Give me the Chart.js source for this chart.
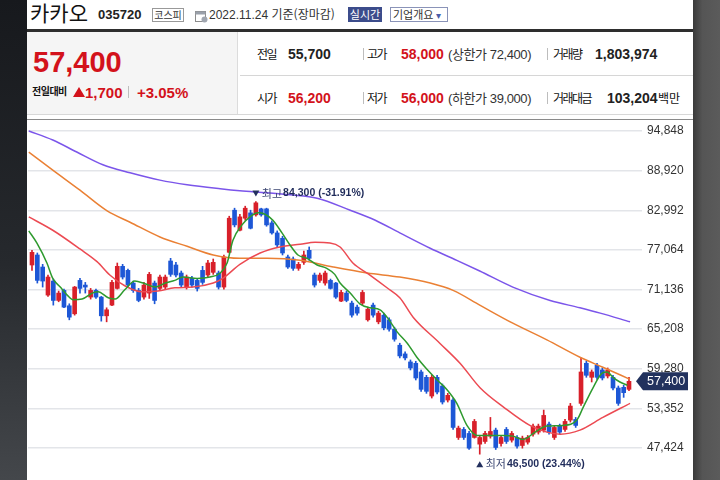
<!DOCTYPE html>
<html lang="ko">
<head>
<meta charset="utf-8">
<title>카카오 035720 일봉</title>
<script src="https://cdn.jsdelivr.net/npm/chart.js@4.4.1/dist/chart.umd.min.js"></script>
<style>
  html, body { margin: 0; padding: 0; }
  body {
    width: 720px; height: 480px; overflow: hidden; position: relative;
    background: linear-gradient(#17191d, #26292d 55%, #44474b);
    font-family: "Liberation Sans", "Noto Sans CJK KR", sans-serif;
    color: #222;
  }
  #side { position: absolute; left: 693px; top: 0; width: 27px; height: 480px;
          background: linear-gradient(to right, #3a3a3a, #555 35%, #5b5b5b); }
  #page { position: absolute; left: 27px; top: 0; width: 666px; height: 480px; background: #fff; }
  .t { position: absolute; white-space: nowrap; }
  .kr { font-family: "Noto Sans CJK KR", sans-serif; }
  .red { color: #d3121b; }
  .b { font-weight: bold; }
  .lbl { font-family: "Noto Sans CJK KR", sans-serif; font-size: 12px; letter-spacing: -1.5px; line-height: 16px; color: #111; }
  .num { font-size: 14px; font-weight: bold; line-height: 16px; }
  .sub { font-size: 13px; line-height: 16px; color: #333; letter-spacing: -0.4px; }
  .sep { position: absolute; width: 1px; height: 12px; background: #bdbdbd; }
  #chartBox { position: absolute; left: 0; top: 120px; width: 666px; height: 360px; }
</style>
</head>
<body>
<div id="side"></div>
<div id="page">
  <!-- 종목 헤더 -->
  <div class="t kr" style="left:3px;top:-2px;font-size:21px;line-height:28px;color:#111">카카오</div>
  <div class="t b" style="left:71px;top:8px;font-size:13px;line-height:14px;color:#222">035720</div>
  <div class="t kr" style="left:125px;top:8px;width:30px;height:12px;border:1px solid #999;font-size:10px;line-height:12px;text-align:center;color:#333">코스피</div>
  <svg class="t" style="left:167px;top:9px" width="14" height="14" viewBox="0 0 14 14">
    <rect x="1.5" y="2.5" width="10" height="10" fill="#fff" stroke="#8c8c8c"/>
    <rect x="1.5" y="2.5" width="10" height="3" fill="#9aa0aa"/>
    <circle cx="10.5" cy="10.5" r="3" fill="#a0a6b0"/>
  </svg>
  <div class="t" style="left:182px;top:6px;font-size:12px;line-height:16px;color:#333">2022.11.24 <span class="kr">기준(장마감)</span></div>
  <div class="t kr" style="left:321px;top:7px;width:34px;height:15px;background:#3c4c8b;color:#fff;font-size:11px;line-height:15px;text-align:center">실시간</div>
  <div class="t kr" style="left:363px;top:7px;width:54px;height:13px;border:1px solid #8a93b8;font-size:11px;line-height:13px;color:#333;padding-left:2px;box-sizing:content-box">기업개요<span style="color:#4b5ea8;font-size:10px"> ▾</span></div>
  <div class="t" style="left:0;top:29px;width:666px;height:3px;background:#2e2e2e"></div>

  <!-- 현재가 -->
  <div class="t" style="left:0;top:32px;width:210px;height:82px;background:#f5f5f5;border-right:1px solid #dcdcdc"></div>
  <div class="t b red" style="left:6px;top:48px;font-size:29px;line-height:29px">57,400</div>
  <div class="t kr b" style="left:5px;top:84px;font-size:10px;line-height:14px;color:#111;letter-spacing:-0.5px">전일대비</div>
  <div class="t" style="left:46px;top:87px;width:0;height:0;border-left:6px solid transparent;border-right:6px solid transparent;border-bottom:10px solid #d3121b"></div>
  <div class="t b red" style="left:58px;top:85px;font-size:15px;line-height:15px">1,700</div>
  <div class="sep" style="left:101px;top:86px;height:12px"></div>
  <div class="t b red" style="left:110px;top:85px;font-size:15px;line-height:15px">+3.05%</div>

  <!-- 시세 표 -->
  <div class="t lbl" style="left:230px;top:46px">전일</div>
  <div class="t num" style="left:261px;top:46px">55,700</div>
  <div class="sep" style="left:336px;top:48px"></div>
  <div class="t lbl" style="left:340px;top:46px">고가</div>
  <div class="t num red" style="left:374px;top:46px">58,000</div>
  <div class="t sub" style="left:421px;top:46px">(<span class="kr">상한가</span> 72,400)</div>
  <div class="sep" style="left:520px;top:48px"></div>
  <div class="t lbl" style="left:526px;top:46px">거래량</div>
  <div class="t num" style="left:568px;top:46px">1,803,974</div>

  <div class="t" style="left:213px;top:75px;width:453px;height:1px;background:#d6d6d6"></div>

  <div class="t lbl" style="left:230px;top:90px">시가</div>
  <div class="t num red" style="left:261px;top:90px">56,200</div>
  <div class="sep" style="left:336px;top:92px"></div>
  <div class="t lbl" style="left:340px;top:90px">저가</div>
  <div class="t num red" style="left:374px;top:90px">56,000</div>
  <div class="t sub" style="left:421px;top:90px">(<span class="kr">하한가</span> 39,000)</div>
  <div class="sep" style="left:520px;top:92px"></div>
  <div class="t lbl" style="left:526px;top:90px">거래대금</div>
  <div class="t num" style="left:580px;top:90px">103,204</div>
  <div class="t kr" style="left:631px;top:90px;font-size:12px;line-height:16px;color:#111">백만</div>

  <div class="t" style="left:0;top:114px;width:666px;height:1px;background:#d8d8d8"></div>
  <div class="t" style="left:0;top:119px;width:666px;height:1px;background:#8a8a8a"></div>

  <div id="chartBox"><canvas id="candleChart"></canvas></div>
</div>

<script>
// 일봉 시가/고가/저가/종가 (그림에서 읽은 값, 마지막 봉 = 2022.11.24)
const opens = [
  74800, 76300, 74500, 70300, 72400, 69500, 71000, 68700, 67500, 72500,
  71800, 70000, 71000, 70000, 67200, 68800, 71300, 74600, 74000, 72100,
  71000, 70000, 70600, 72100, 71300, 71500, 75400, 74800, 73600, 71500,
  72800, 72500, 74000, 73300, 73700, 73600, 71500, 76700, 83000, 80000,
  81800, 82600, 82300, 83200, 83200, 81100, 79600, 78800, 76000, 75700,
  74300, 75200, 77000, 73300, 72500, 72100, 72500, 72100, 69400, 70600,
  69100, 68500, 69100, 66600, 68800, 66300, 67300, 66600, 65200, 62800,
  61500, 60300, 60100, 58800, 58000, 55200, 58000, 56700, 54600, 54600,
  49000, 50200, 49600, 49000, 48000, 48400, 49200, 50100, 48100, 50200,
  48600, 49000, 47800, 48300, 49500, 49800, 50100, 51000, 49000, 50700,
  50200, 51600, 51700, 54100, 60100, 58000, 59800, 59100, 58200, 58000,
  56400, 56500, 56200
];
const highs = [
  77000, 76600, 74900, 73300, 72700, 70900, 71200, 69000, 71600, 72800,
  72200, 71300, 71200, 70100, 68400, 72500, 75100, 74900, 74200, 72400,
  71300, 72200, 73700, 72400, 73300, 73300, 75800, 75200, 73900, 73300,
  73100, 72800, 74600, 75500, 75700, 73900, 76300, 82100, 83300, 82400,
  83600, 83000, 84300, 83300, 83300, 81400, 79900, 79100, 76300, 76000,
  75200, 76900, 77500, 73600, 73600, 73900, 72700, 72200, 71000, 70900,
  69400, 68800, 71000, 68500, 69100, 67900, 67600, 66900, 65500, 63100,
  61800, 60600, 60400, 59100, 58300, 58300, 58300, 57000, 55600, 54900,
  50700, 50500, 49900, 51700, 49300, 49900, 52000, 50400, 49300, 50500,
  49900, 49300, 49200, 49300, 51000, 51000, 53100, 51300, 50800, 51000,
  51700, 54100, 52000, 60900, 60400, 59100, 60100, 59400, 59400, 58300,
  56700, 56800, 58000
];
const lows = [
  74000, 72100, 71500, 70100, 68800, 69300, 68400, 66600, 67300, 70600,
  70600, 69700, 69800, 66400, 66300, 68700, 71200, 72700, 71500, 70700,
  69300, 69700, 69800, 69000, 71000, 71200, 73100, 73000, 71500, 71200,
  71500, 70900, 71900, 73000, 73400, 71200, 71200, 76600, 80500, 79900,
  81500, 80200, 82100, 82100, 80600, 79400, 77500, 76300, 74300, 74000,
  74000, 74900, 75500, 71500, 72200, 71800, 71200, 69800, 69300, 69300,
  67000, 67300, 68800, 66400, 67000, 66000, 65100, 64900, 63400, 60900,
  60600, 59100, 57600, 55900, 55600, 54900, 55500, 54000, 54300, 50200,
  48700, 48700, 47200, 48900, 46500, 48100, 48900, 47200, 47700, 48100,
  48300, 47400, 47400, 48000, 49200, 49500, 49800, 49500, 48700, 49500,
  49900, 51300, 50500, 53800, 58000, 57300, 57700, 57600, 57900, 56100,
  53800, 55000, 56000
];
const closes = [
  76700, 72500, 72400, 73000, 69500, 70600, 68500, 67000, 71500, 71300,
  71500, 71000, 70000, 67200, 68100, 72200, 74600, 73000, 71800, 71000,
  69500, 71800, 73400, 69500, 73000, 73000, 73400, 73300, 71800, 73000,
  71800, 71300, 72200, 75100, 75200, 71500, 76000, 81800, 80800, 82000,
  83300, 80300, 84100, 82300, 80800, 79600, 77800, 76600, 74500, 74300,
  74900, 76300, 75800, 71800, 73300, 73600, 71300, 70000, 70700, 69500,
  67300, 67600, 70700, 68200, 67300, 67600, 65400, 65200, 63700, 61200,
  60900, 59400, 57900, 56200, 55900, 58000, 55800, 54300, 55300, 50500,
  50400, 49000, 47400, 51400, 49000, 49600, 49900, 47500, 49000, 48400,
  49600, 47700, 48900, 49000, 50700, 50700, 52300, 49800, 50500, 49800,
  51400, 53700, 50800, 58800, 58300, 58800, 58000, 57900, 59100, 56400,
  54100, 55700, 57400
];

// 이동평균선 [봉 위치, 값] — 5일(녹), 20일(적), 60일(주황), 120일(보라)
const ma5 = [
  [-0.6, 79900], [0.9, 78100], [2.8, 75100], [3.9, 72800], [5.3, 71500], [6.6, 70300],
  [7.7, 69600], [9.4, 69700], [11.3, 70600], [12.4, 70800], [14.3, 69900], [15.6, 69700],
  [17.4, 71100], [19.3, 72400], [21.2, 72000], [23.1, 71500], [25, 72100], [26.8, 72500],
  [28.3, 73000], [31, 72800], [33.4, 73000], [35.3, 73600], [36.6, 75100], [37.7, 78500],
  [39.4, 80800], [40.9, 82000], [42.4, 82600], [43.7, 82400], [45.2, 81500], [46.9, 79600],
  [48.4, 77800], [49.9, 76300], [51.6, 75800], [53.5, 74800], [55.3, 74300], [56.8, 73400],
  [57.8, 72100], [59.7, 70600], [61.5, 69000], [63.4, 68400], [65.3, 68100], [66.6, 67000],
  [68.5, 64800], [70.4, 63100], [72.2, 61000], [74.1, 59200], [76, 57600], [77.9, 56100],
  [79.7, 54100], [81.6, 50800], [83.5, 49300], [85.9, 49300], [88.4, 49300], [90.2, 49200],
  [92.1, 48700], [94.4, 49800], [96.6, 50700], [99.6, 50800], [102.3, 51700], [103.4, 53500],
  [105.3, 56500], [106.9, 58600], [107.9, 58800], [109, 58000], [110.3, 57300], [111.7, 56800]
];
const ma20 = [
  [-0.6, 82000], [3.9, 80000], [9, 77200], [12.2, 75300], [14.6, 73300], [17.4, 71700],
  [20.6, 70800], [23.6, 70900], [26.8, 71400], [30.2, 71500], [34, 72100], [35.8, 72800],
  [39, 74900], [42.8, 76600], [46.5, 77500], [50.3, 77900], [53.1, 78200], [55.9, 78100],
  [57.8, 77500], [60.2, 75100], [63.4, 73300], [66.6, 71400], [69, 69900], [71.5, 67000],
  [76.5, 63100], [80.3, 60100], [84.1, 56400], [88.7, 53400], [93.4, 50800], [96.6, 49800],
  [99.1, 49500], [102.8, 50100], [107.1, 52000], [112.2, 54100]
];
const ma60 = [
  [-0.6, 91700], [3.9, 89000], [9, 86000], [14.1, 82900], [18.4, 81200], [24, 79000],
  [29.1, 77600], [34, 76300], [39, 75800], [44.1, 75800], [50.3, 75500], [56.5, 74500],
  [62.9, 73600], [69, 73000], [74.7, 72100], [79, 71000], [84, 68800], [90.2, 66100],
  [96.6, 63600], [102.8, 61000], [107.1, 59500], [112.2, 57700]
];
const ma120 = [
  [-0.6, 94850], [3.9, 93500], [8.4, 91700], [13.3, 89800], [18.4, 88600], [24, 87500],
  [29.1, 86800], [35.3, 86200], [39, 85900], [44.1, 85600], [48.4, 85300], [53.5, 84800],
  [59.7, 83000], [64.4, 81500], [69, 79600], [74.7, 77300], [79.7, 75500], [84, 73900],
  [90.2, 71500], [97.2, 69500], [102.8, 68400], [106.6, 67600], [112.2, 66300]
];

const yTicks = [47424, 53352, 59280, 65208, 71136, 77064, 82992, 88920, 94848];

const UP = '#d8202a';
const DOWN = '#1d57d6';
const fmt = v => v.toLocaleString('en-US');
const candleColor = c => closes[c.dataIndex] >= opens[c.dataIndex] ? UP : DOWN;
const toPoints = arr => arr.map(p => ({ x: p[0], y: p[1] }));

function maLine(label, arr, color, order) {
  return {
    type: 'line',
    label: label,
    data: toPoints(arr),
    borderColor: color,
    borderWidth: 1.5,
    pointRadius: 0,
    cubicInterpolationMode: 'monotone',
    order: order
  };
}

// 최고/최저 표시
function drawNote(ctx, px, py, down, label, text) {
  ctx.fillStyle = '#23305e';
  ctx.beginPath();
  if (down) {
    ctx.moveTo(px - 3.5, py - 3); ctx.lineTo(px + 3.5, py - 3); ctx.lineTo(px, py + 3);
  } else {
    ctx.moveTo(px - 3.5, py + 3); ctx.lineTo(px + 3.5, py + 3); ctx.lineTo(px, py - 3);
  }
  ctx.fill();
  ctx.textBaseline = 'middle';
  ctx.textAlign = 'left';
  ctx.font = '11px "Noto Sans CJK KR"';
  ctx.fillStyle = '#3d4873';
  ctx.fillText(label, px + 6, py);
  const w = ctx.measureText(label).width;
  ctx.font = 'bold 10.5px "Liberation Sans"';
  ctx.fillStyle = '#1f2b5a';
  ctx.fillText(text, px + 7 + w, py);
}

const markers = {
  id: 'markers',
  afterDatasetsDraw(chart) {
    const { ctx, scales: { x, y } } = chart;
    const last = closes[closes.length - 1];
    const hi = highs.indexOf(Math.max(...highs));
    const lo = lows.indexOf(Math.min(...lows));
    const pct = ref => ((last / ref - 1) * 100).toFixed(2);
    ctx.save();
    drawNote(ctx, x.getPixelForValue(hi), y.getPixelForValue(highs[hi]) - 8, true,
      '최고', fmt(highs[hi]) + ' (' + pct(highs[hi]) + '%)');
    drawNote(ctx, x.getPixelForValue(lo), y.getPixelForValue(lows[lo]) + 10, false,
      '최저', fmt(lows[lo]) + ' (' + pct(lows[lo]) + '%)');
    ctx.restore();
  }
};

// 현재가 태그
const priceTag = {
  id: 'priceTag',
  afterDraw(chart) {
    const { ctx, chartArea, scales: { y } } = chart;
    const v = closes[closes.length - 1];
    const py = y.getPixelForValue(v);
    const r = chartArea.right;
    ctx.save();
    ctx.fillStyle = '#22325e';
    ctx.beginPath();
    ctx.moveTo(r - 6, py);
    ctx.lineTo(r + 1, py - 9);
    ctx.lineTo(r + 46, py - 9);
    ctx.lineTo(r + 46, py + 9);
    ctx.lineTo(r + 1, py + 9);
    ctx.closePath();
    ctx.fill();
    ctx.fillStyle = '#fff';
    ctx.font = '12.5px "Liberation Sans"';
    ctx.textBaseline = 'middle';
    ctx.fillText(fmt(v), r + 5, py + 0.5);
    ctx.restore();
  }
};

new Chart(document.getElementById('candleChart'), {
  type: 'bar',
  data: {
    datasets: [
      maLine('5', ma5, '#2e9a2e', 0),
      maLine('20', ma20, '#ec4a52', 1),
      maLine('60', ma60, '#ea8034', 2),
      maLine('120', ma120, '#7b55ea', 3),
      {
        label: 'body',
        data: closes.map((c, i) => ({ x: i, y: [opens[i], c] })),
        backgroundColor: candleColor,
        barThickness: 4,
        minBarLength: 1,
        grouped: false,
        order: 4
      },
      {
        label: 'wick',
        data: highs.map((h, i) => ({ x: i, y: [lows[i], h] })),
        backgroundColor: candleColor,
        barThickness: 1,
        grouped: false,
        order: 5
      }
    ]
  },
  options: {
    responsive: true,
    maintainAspectRatio: false,
    animation: false,
    layout: { padding: { left: 1, top: 0, right: 0, bottom: 0 } },
    plugins: { legend: { display: false }, tooltip: { enabled: false } },
    scales: {
      x: {
        type: 'linear',
        min: -0.75,
        max: 114.44,
        offset: false,
        display: false
      },
      y: {
        position: 'right',
        min: 42637,
        max: 96494,
        afterBuildTicks: scale => { scale.ticks = yTicks.map(v => ({ value: v })); },
        afterFit: scale => { scale.width = 51; scale.paddingTop = 0; scale.paddingBottom = 0; },
        grid: { color: '#e3e5e9', lineWidth: 1.5, drawTicks: false },
        border: { display: false },
        ticks: {
          padding: 5,
          color: '#333',
          font: { family: 'Liberation Sans', size: 12 },
          callback: v => fmt(v)
        }
      }
    }
  },
  plugins: [markers, priceTag]
});
</script>
</body>
</html>
